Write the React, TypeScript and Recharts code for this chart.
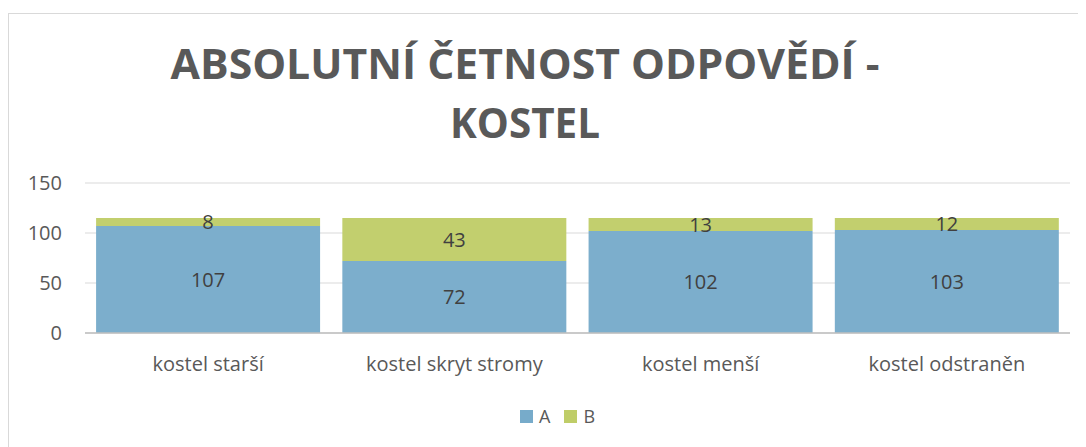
import React from "react";
import { BarChart, Bar, XAxis, YAxis, CartesianGrid, Legend, LabelList } from "recharts";

const categories = ["kostel starší", "kostel skryt stromy", "kostel menší", "kostel odstraněn"];
const seriesA = [107, 72, 102, 103];
const seriesB = [8, 43, 13, 12];
const yTicks = [0, 50, 100, 150];
const titleLines = ["ABSOLUTNÍ ČETNOST ODPOVĚDÍ -", "KOSTEL"];

const data = categories.map((name, i) => ({ name, A: seriesA[i], B: seriesB[i] }));

const COLOR_A = "#77abca";
const COLOR_B = "#bfcd68";
const FONT = "'Open Sans', sans-serif";

const renderLegend = (props: any) => {
  const payload = props.payload || [];
  return (
    <div style={{ display: "flex", alignItems: "center", paddingLeft: 512, height: 24, fontFamily: FONT }}>
      {payload.map((p: any, i: number) => (
        <div key={i} style={{ display: "flex", alignItems: "center", marginRight: 14 }}>
          <div style={{ width: 13, height: 13, background: p.color, marginRight: 6 }} />
          <span style={{ fontSize: 18, color: "#595959" }}>{p.value}</span>
        </div>
      ))}
    </div>
  );
};

export default function App() {
  return (
    <div style={{ position: "relative", width: 1078, height: 439, fontFamily: FONT, overflow: "hidden" }}>
      <div
        style={{
          position: "absolute",
          left: 0,
          top: 5,
          width: 1078,
          height: 434,
          borderTop: "1px solid #d9d9d9",
          borderLeft: "1px solid #d9d9d9",
          boxSizing: "border-box",
        }}
      />
      <svg style={{ position: "absolute", left: 0, top: 0 }} width={1078} height={160}>
        <text x={517} y={71} textAnchor="middle" fontFamily={FONT} fontWeight={700} fontSize={42} fill="#595959" textLength={709} lengthAdjust="spacingAndGlyphs">
          {titleLines[0]}
        </text>
        <text x={517} y={130} textAnchor="middle" fontFamily={FONT} fontWeight={700} fontSize={42} fill="#595959" textLength={150} lengthAdjust="spacingAndGlyphs">
          {titleLines[1]}
        </text>
      </svg>
      <div style={{ position: "absolute", left: 0, top: 0 }}>
        <BarChart
          width={1078}
          height={439}
          data={data}
          margin={{ top: 175, right: 16, left: 0, bottom: 19 }}
          barCategoryGap="4.5%"
        >
          <CartesianGrid vertical={false} stroke="#d9d9d9" strokeWidth={1.2} />
          <XAxis
            dataKey="name"
            height={71}
            tickLine={false}
            tickSize={0}
            tickMargin={24}
            axisLine={{ stroke: "#bfbfbf", strokeWidth: 1.5 }}
            tick={{ fill: "#595959", fontSize: 20, fontFamily: FONT }}
            interval={0}
          />
          <YAxis
            width={77}
            domain={[0, 150]}
            ticks={yTicks}
            axisLine={false}
            tickLine={false}
            tickSize={0}
            tickMargin={23}
            tick={{ fill: "#595959", fontSize: 20, fontFamily: FONT }}
          />
          <Legend verticalAlign="bottom" content={renderLegend} wrapperStyle={{ left: 0, width: 1078 }} />
          <Bar dataKey="A" stackId="s" fill={COLOR_A} fillOpacity={0.96} isAnimationActive={false}>
            <LabelList dataKey="A" position="center" fill="#404040" fontSize={20} fontFamily={FONT} />
          </Bar>
          <Bar dataKey="B" stackId="s" fill={COLOR_B} fillOpacity={0.96} isAnimationActive={false}>
            <LabelList dataKey="B" position="center" fill="#404040" fontSize={20} fontFamily={FONT} />
          </Bar>
        </BarChart>
      </div>
    </div>
  );
}
